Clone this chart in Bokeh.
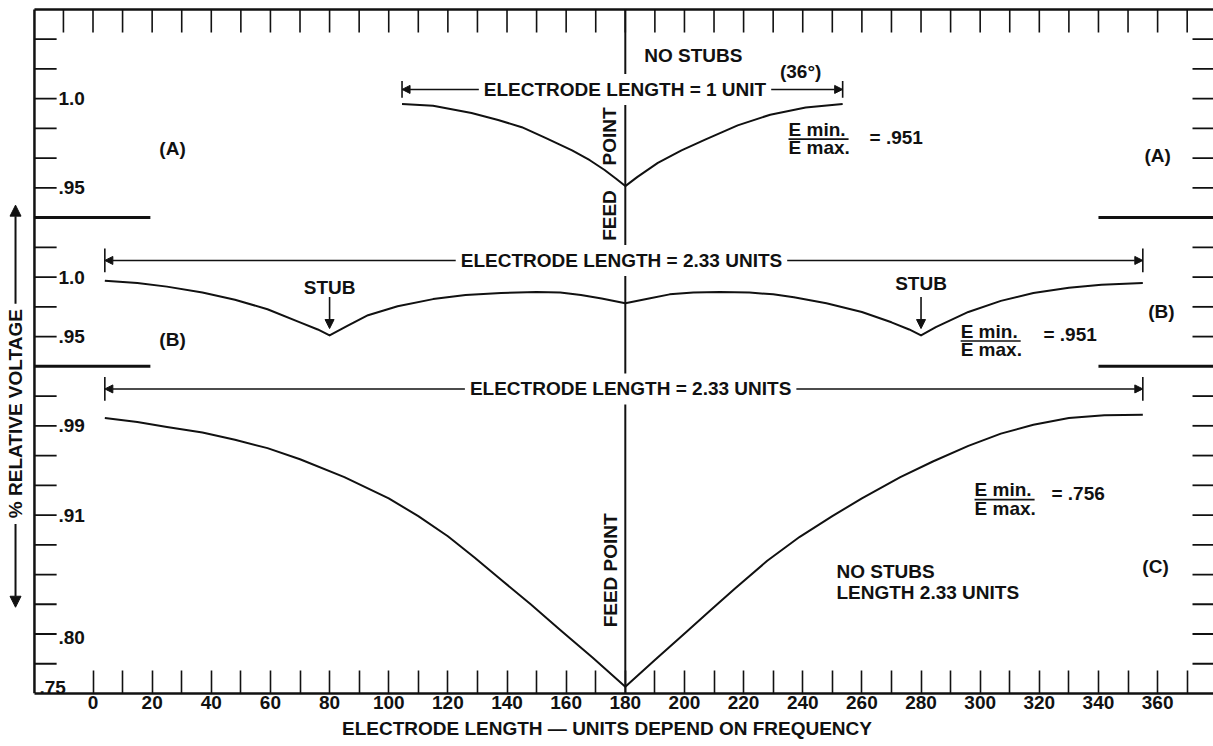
import math
from bokeh.plotting import figure
from bokeh.models import Range1d, FixedTicker, Arrow, NormalHead, Label, LinearAxis
from bokeh.core.properties import value
from bokeh.embed import file_html
from bokeh.resources import INLINE

# ---------------- data ----------------
# position along the electrode (degrees) and relative voltage
a_x = [104.5, 115, 128, 137, 145, 153, 162, 168, 173, 177, 180,
       184, 191, 199, 207, 218, 229, 241, 253.5]
a_v = [0.997, 0.996, 0.992, 0.988, 0.984, 0.978, 0.971, 0.9655, 0.960, 0.955, 0.951,
       0.956, 0.964, 0.971, 0.977, 0.985, 0.991, 0.995, 0.997]

b_x = [4, 15, 25, 37, 48, 59, 70, 76, 80,
       86, 93, 103, 115, 126, 138, 150, 158, 165, 172, 180,
       188, 195, 203, 212, 222, 230, 237, 248, 260, 270, 276, 280,
       285, 296, 307, 318, 330, 341, 355]
b_v = [0.997, 0.995, 0.992, 0.987, 0.981, 0.973, 0.962, 0.956, 0.951,
       0.959, 0.968, 0.9755, 0.9815, 0.985, 0.9866, 0.9875, 0.987, 0.985, 0.982, 0.978,
       0.982, 0.9855, 0.987, 0.9875, 0.987, 0.9855, 0.983, 0.978, 0.9707, 0.962, 0.956, 0.951,
       0.958, 0.9707, 0.980, 0.9866, 0.991, 0.9935, 0.995]

c_x = [4, 15, 25, 37, 48, 59, 70, 85, 100, 110, 120, 129, 138, 148, 158, 169, 180,
       190, 201, 209, 217, 228, 239, 250, 260, 273, 284, 296, 307, 318, 330, 342, 355]
c_v = [0.997, 0.9935, 0.989, 0.984, 0.9775, 0.970, 0.960, 0.944, 0.925, 0.909, 0.891,
       0.872, 0.852, 0.830, 0.807, 0.782, 0.756,
       0.780, 0.806, 0.825, 0.844, 0.869, 0.8905, 0.909, 0.925, 0.944, 0.958, 0.972,
       0.983, 0.991, 0.997, 0.9995, 1.0]

x_ticks = list(range(0, 361, 20))
x_minor_ticks = list(range(10, 371, 20))
top_ticks = list(range(-10, 371, 10))

a_ticks, a_tick_labels = [1.0, 0.95], ["1.0", ".95"]
b_ticks, b_tick_labels = [1.0, 0.95], ["1.0", ".95"]
c_ticks, c_tick_labels = [0.99, 0.91, 0.80], [".99", ".91", ".80"]
c_floor, c_floor_label = 0.75, ".75"

ratio_labels = {"A": ".951", "B": ".951", "C": ".756"}

# ---------------- layout constants ----------------
FONT = "Liberation Sans"
INK = "#111111"
FS = "19px"

X_MIN, X_MAX = -31.28, 378.9      # horizontal extent of the drawing area
X_LEFT = -19.8                    # left border of the chart box
X_LTICK = -12.3                   # end of left-hand graduations
X_LBREAK = 19.4                   # end of left-hand panel dividers
X_RTICK = 371.8
X_RBREAK = 340.0
K_TOP = 23.30                     # vertical extent in graduation steps
K_BOX = 23.0                      # top border of the chart box
TICK_K = 23 / 29.74               # tick length in graduation steps

PANEL_BREAKS = [11, 16]
side_k = [k for k in range(1, 23) if k not in PANEL_BREAKS]


def panel_range(v_ref, k_ref, per_k):
    """Voltage scale of one panel, expressed over the common vertical extent."""
    return Range1d(v_ref - k_ref * per_k, v_ref + (K_TOP - k_ref) * per_k)


p = figure(width=1213, height=746,
           x_range=Range1d(X_MIN, X_MAX), y_range=Range1d(0, K_TOP),
           output_backend="svg", toolbar_location=None,
           x_axis_location=None, y_axis_location=None,
           min_border_left=0, min_border_right=0, min_border_top=0, min_border_bottom=53)
p.outline_line_color = None
p.grid.visible = False
p.background_fill_color = "white"
p.border_fill_color = "white"

p.extra_y_ranges = {
    "A": panel_range(1.0, 20, 0.05 / 3),
    "B": panel_range(1.0, 14, 0.025),
    "C": panel_range(0.75, 0, 0.24 / 9),
}

# ---------------- bottom axis ----------------
xaxis = LinearAxis(
    ticker=FixedTicker(ticks=x_ticks, minor_ticks=x_minor_ticks),
    bounds=(X_LEFT, X_MAX),
    axis_label="ELECTRODE LENGTH \u2014 UNITS DEPEND ON FREQUENCY",
    major_tick_in=23, major_tick_out=0, minor_tick_in=23, minor_tick_out=0,
    major_tick_line_width=1.6, minor_tick_line_width=1.6,
    major_tick_line_color=INK, minor_tick_line_color=INK,
    axis_line_width=2.5, axis_line_color=INK,
    major_label_standoff=2, axis_label_standoff=6,
    major_label_text_font=FONT, major_label_text_font_style="bold",
    major_label_text_font_size=FS, major_label_text_color=INK,
    axis_label_text_font=FONT, axis_label_text_font_style="bold",
    axis_label_text_font_size=FS, axis_label_text_color=INK,
)
p.add_layout(xaxis, "below")

# ---------------- box, graduations, dividers ----------------
line_kw = dict(line_color=INK)
p.segment(x0=X_LEFT, y0=0, x1=X_LEFT, y1=K_BOX, line_width=2.5, **line_kw)
p.segment(x0=X_LEFT, y0=K_BOX, x1=X_MAX, y1=K_BOX, line_width=2.5, **line_kw)
p.segment(x0=top_ticks, y0=K_BOX, x1=top_ticks, y1=K_BOX - TICK_K, line_width=1.6, **line_kw)
p.segment(x0=X_LEFT, y0=side_k, x1=X_LTICK, y1=side_k, line_width=1.8, **line_kw)
p.segment(x0=X_RTICK, y0=side_k, x1=X_MAX, y1=side_k, line_width=1.8, **line_kw)
p.segment(x0=X_LEFT, y0=PANEL_BREAKS, x1=X_LBREAK, y1=PANEL_BREAKS, line_width=3, **line_kw)
p.segment(x0=X_RBREAK, y0=PANEL_BREAKS, x1=X_MAX, y1=PANEL_BREAKS, line_width=3, **line_kw)

# ---------------- feed point line ----------------
feed_x = c_x[c_v.index(min(c_v))]
p.segment(x0=feed_x, y0=0, x1=feed_x, y1=K_BOX, line_width=2, **line_kw)

# ---------------- voltage curves ----------------
curve_kw = dict(line_width=2, line_color=INK, line_join="round")
p.line(a_x, a_v, y_range_name="A", **curve_kw)
p.line(b_x, b_v, y_range_name="B", **curve_kw)
p.line(c_x, c_v, y_range_name="C", **curve_kw)

txt = dict(text_font=value(FONT), text_font_style="bold", text_font_size=FS, text_color=INK)

# ---------------- panel scale labels ----------------
for name, vals, labs in (("A", a_ticks, a_tick_labels), ("B", b_ticks, b_tick_labels),
                         ("C", c_ticks, c_tick_labels)):
    p.text(x=[-11.7] * len(vals), y=vals, text=labs, y_range_name=name,
           text_align="left", text_baseline="middle", **txt)
p.text(x=[-18.1], y=[c_floor], text=[c_floor_label], y_range_name="C",
       text_align="left", text_baseline="bottom", **txt)

# vertical axis title with its arrows
p.text(x=[-26.2], y=[9.41], text=["% RELATIVE VOLTAGE"], angle=math.pi / 2,
       text_align="center", text_baseline="middle", **txt)
p.add_layout(Arrow(end=NormalHead(size=11, fill_color=INK, line_color=INK),
                   x_start=-26.2, y_start=13.1, x_end=-26.2, y_end=16.42,
                   line_width=2, line_color=INK))
p.add_layout(Arrow(end=NormalHead(size=11, fill_color=INK, line_color=INK),
                   x_start=-26.2, y_start=5.7, x_end=-26.2, y_end=2.9,
                   line_width=2, line_color=INK))

# panel letters
p.text(x=[26.9, 360.0], y=[18.33, 18.09], text=["(A)", "(A)"], text_align="center", text_baseline="middle", **txt)
p.text(x=[26.9, 361.3], y=[11.90, 12.84], text=["(B)", "(B)"], text_align="center", text_baseline="middle", **txt)
p.text(x=[359.3], y=[4.27], text=["(C)"], text_align="center", text_baseline="middle", **txt)


# ---------------- electrode length dimension lines ----------------
def dimension(x0, x1, k, half, label, label_x):
    p.segment(x0=[x0, x1], y0=k - half, x1=[x0, x1], y1=k + half, line_width=1.6, **line_kw)
    for xe in (x0, x1):
        p.add_layout(Arrow(end=NormalHead(size=8, fill_color=INK, line_color=INK),
                           x_start=label_x, y_start=k, x_end=xe, y_end=k,
                           line_width=1.4, line_color=INK))
    p.add_layout(Label(x=label_x, y=k, text=label, text_font=FONT, text_font_style="bold",
                       text_font_size=FS, text_color=INK, text_align="center",
                       text_baseline="middle", background_fill_color="white",
                       padding=5))


dimension(a_x[0], a_x[-1], 20.31, 0.28, "ELECTRODE LENGTH = 1 UNIT", 179.9)
dimension(b_x[0], b_x[-1], 14.56, 0.40, "ELECTRODE LENGTH = 2.33 UNITS", 178.7)
dimension(c_x[0], c_x[-1], 10.24, 0.40, "ELECTRODE LENGTH = 2.33 UNITS", 181.8)

p.text(x=[203.0], y=[21.45], text=["NO STUBS"], text_align="center", text_baseline="middle", **txt)
p.text(x=[239.3], y=[20.92], text=["(36\u00b0)"], text_align="center", text_baseline="middle", **txt)

# feed point captions
p.text(x=[174.7, 174.7], y=[18.73, 16.07], text=["POINT", "FEED"], angle=math.pi / 2,
       text_align="center", text_baseline="middle", **txt)
p.text(x=[175.0], y=[4.14], text=["FEED POINT"], angle=math.pi / 2,
       text_align="center", text_baseline="middle", **txt)

# stubs on curve B
stub_x = [x for x, v in zip(b_x, b_v) if v == min(b_v)]
p.text(x=stub_x, y=[13.65, 13.79], text=["STUB"] * len(stub_x),
       text_align="center", text_baseline="middle", **txt)
for sx in stub_x:
    p.add_layout(Arrow(end=NormalHead(size=9, fill_color=INK, line_color=INK),
                       x_start=sx, y_start=13.33, x_end=sx, y_end=12.27,
                       line_width=1.6, line_color=INK))


# ---------------- E min / E max ratios ----------------
def ratio(x, k_top, k_bot, x_eq, k_eq, result):
    p.text(x=[x, x], y=[k_top, k_bot], text=["E min.", "E max."],
           text_align="left", text_baseline="middle", **txt)
    p.segment(x0=x, y0=(k_top + k_bot) / 2 - 0.02, x1=x + 20.3, y1=(k_top + k_bot) / 2 - 0.02,
              line_width=1.6, **line_kw)
    p.text(x=[x_eq], y=[k_eq], text=["= " + result], text_align="left",
           text_baseline="middle", **txt)


ratio(235.2, 18.96, 18.36, 262.6, 18.70, ratio_labels["A"])
ratio(293.4, 12.17, 11.57, 321.4, 12.07, ratio_labels["B"])
ratio(298.1, 6.86, 6.22, 324.1, 6.72, ratio_labels["C"])

# note for curve C
p.text(x=[251.4, 251.4], y=[4.10, 3.40], text=["NO STUBS", "LENGTH 2.33 UNITS"],
       text_align="left", text_baseline="middle", **txt)

open("out.html", "w").write(file_html(p, INLINE))
